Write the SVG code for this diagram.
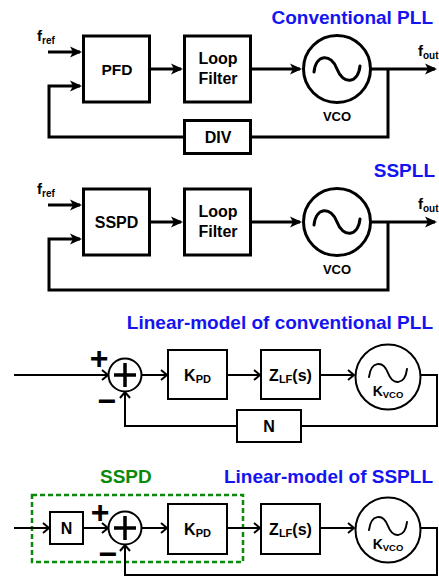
<svg xmlns="http://www.w3.org/2000/svg" width="439" height="579" viewBox="0 0 439 579">
<style>
.t{font-family:"Liberation Sans",Arial,sans-serif;font-weight:bold;fill:#000}
.ttl{font-family:"Liberation Sans",Arial,sans-serif;font-weight:bold;font-size:19px;fill:#1414f0}
.w3{fill:none;stroke:#000;stroke-width:3;stroke-linejoin:miter}
.w2{fill:none;stroke:#000;stroke-width:2;stroke-linejoin:miter}
.b3{fill:#fff;stroke:#000;stroke-width:3}
.b2{fill:#fff;stroke:#000;stroke-width:2}
.sine3{fill:none;stroke:#000;stroke-width:3;stroke-linecap:round}
.sine2{fill:none;stroke:#000;stroke-width:2;stroke-linecap:round}
.pl{fill:none;stroke:#000;stroke-width:3.5}
.sg{font-family:"Liberation Sans",Arial,sans-serif;font-weight:bold;font-size:32px;fill:#000}
</style>
<defs>
<marker id="ah" markerUnits="userSpaceOnUse" viewBox="-11 -6 14 12" refX="0" refY="0" markerWidth="14" markerHeight="12" orient="auto"><path d="M2,0 L-10,-5.5 L-7,0 L-10,5.5 Z" fill="#000"/></marker>
<marker id="ch" markerUnits="userSpaceOnUse" viewBox="-8 -7 10 14" refX="0" refY="0" markerWidth="10" markerHeight="14" orient="auto"><path d="M-6,-5 L0,0 L-6,5" fill="none" stroke="#000" stroke-width="2"/></marker>
</defs>

<text class="ttl" x="433" y="24" text-anchor="end">Conventional PLL</text>
<text class="ttl" x="435" y="177" text-anchor="end">SSPLL</text>
<text class="ttl" x="433" y="329" text-anchor="end">Linear-model of conventional PLL</text>
<text class="ttl" x="433" y="483" text-anchor="end">Linear-model of SSPLL</text>

<rect id="sspd-group" x="32" y="495" width="211" height="67" fill="none" stroke="#0a8a0a" stroke-width="2.5" stroke-dasharray="5 3"/>
<text class="ttl" x="100" y="483" style="fill:#0a8a0a">SSPD</text>

<g id="connectors">
<!-- section 1 -->
<path class="w3" d="M48,52 H80" marker-end="url(#ah)"/>
<path class="w3" d="M151,69 H181" marker-end="url(#ah)"/>
<path class="w3" d="M252,69 H300" marker-end="url(#ah)"/>
<path class="w3" d="M370,69 H435" marker-end="url(#ah)"/>
<path class="w3" d="M388,69 V137 H49 V86 H80" marker-end="url(#ah)"/>
<!-- section 2 -->
<path class="w3" d="M48,205 H80" marker-end="url(#ah)"/>
<path class="w3" d="M151,222 H181" marker-end="url(#ah)"/>
<path class="w3" d="M252,222 H300" marker-end="url(#ah)"/>
<path class="w3" d="M370,222 H435" marker-end="url(#ah)"/>
<path class="w3" d="M388,222 V290 H49 V239 H80" marker-end="url(#ah)"/>
<!-- section 3 -->
<path class="w2" d="M14,375 H108" marker-end="url(#ch)"/>
<path class="w2" d="M142,375 H167" marker-end="url(#ch)"/>
<path class="w2" d="M228,375 H260" marker-end="url(#ch)"/>
<path class="w2" d="M321,375 H354" marker-end="url(#ch)"/>
<path class="w2" d="M420,375 H437 V426 H125 V392" marker-end="url(#ch)"/>
<!-- section 4 -->
<path class="w2" d="M14,528 H49" marker-end="url(#ch)"/>
<path class="w2" d="M84,528 H108" marker-end="url(#ch)"/>
<path class="w2" d="M142,528 H167" marker-end="url(#ch)"/>
<path class="w2" d="M228,528 H260" marker-end="url(#ch)"/>
<path class="w2" d="M321,528 H354" marker-end="url(#ch)"/>
<path class="w2" d="M420,528 H437 V575 H125 V545" marker-end="url(#ch)"/>
</g>

<!-- section 1 nodes -->
<text class="t" x="37" y="41" font-size="15">f<tspan font-size="10" dy="3">ref</tspan></text>
<text class="t" x="418" y="56" font-size="15">f<tspan font-size="10" dy="3">out</tspan></text>
<g id="pfd"><rect class="b3" x="83.5" y="36" width="66" height="66"/><text class="t" x="117" y="75" font-size="15.5" text-anchor="middle">PFD</text></g>
<g id="lf1"><rect class="b3" x="184.5" y="36" width="66" height="66"/><text class="t" x="218" y="64" font-size="16" text-anchor="middle">Loop</text><text class="t" x="218" y="84" font-size="16" text-anchor="middle">Filter</text></g>
<g id="vco1"><circle class="b3" cx="337" cy="69" r="33.5"/><path class="sine3" d="M314,72 C316,54 331,53 337,69 C343,85 358,84 360,66"/><text class="t" x="337" y="121" font-size="13" text-anchor="middle">VCO</text></g>
<g id="div"><rect class="b3" x="184.5" y="120.5" width="66" height="33"/><text class="t" x="218" y="142.5" font-size="16" text-anchor="middle">DIV</text></g>

<!-- section 2 nodes -->
<text class="t" x="37" y="194" font-size="15">f<tspan font-size="10" dy="3">ref</tspan></text>
<text class="t" x="418" y="209" font-size="15">f<tspan font-size="10" dy="3">out</tspan></text>
<g id="sspd"><rect class="b3" x="83.5" y="189" width="66" height="66"/><text class="t" x="116.5" y="227.5" font-size="16" text-anchor="middle">SSPD</text></g>
<g id="lf2"><rect class="b3" x="184.5" y="189" width="66" height="66"/><text class="t" x="218" y="217" font-size="16" text-anchor="middle">Loop</text><text class="t" x="218" y="237" font-size="16" text-anchor="middle">Filter</text></g>
<g id="vco2"><circle class="b3" cx="337" cy="222" r="33.5"/><path class="sine3" d="M314,225 C316,207 331,206 337,222 C343,238 358,237 360,219"/><text class="t" x="337" y="274" font-size="13" text-anchor="middle">VCO</text></g>

<!-- section 3 nodes -->
<g id="sum1"><circle class="b2" cx="125" cy="375" r="16.5"/><path class="pl" d="M114,375 H136 M125,363 V387"/>
<text class="sg" x="99" y="368.5" text-anchor="middle">+</text><text class="sg" x="107" y="411.5" text-anchor="middle">−</text></g>
<g id="kpd1"><rect class="b2" x="168" y="350" width="59" height="49"/><text class="t" x="197.5" y="381" font-size="16" text-anchor="middle">K<tspan font-size="11" dy="1.5">PD</tspan></text></g>
<g id="zlf1"><rect class="b2" x="261" y="350" width="59" height="49"/><text class="t" x="290.5" y="381" font-size="16" text-anchor="middle">Z<tspan font-size="11" dy="1.5">LF</tspan><tspan dy="-1.5">(s)</tspan></text></g>
<g id="kvco1"><circle class="b2" cx="388" cy="377" r="32.5"/><path class="sine2" d="M369,377 C371,361 383,360 388,373 C393,386 405,385 407,369"/><text class="t" x="388" y="396" font-size="14" text-anchor="middle">K<tspan font-size="9.5" dy="1.5">VCO</tspan></text></g>
<g id="n1"><rect class="b2" x="237" y="410" width="64" height="32"/><text class="t" x="269" y="432" font-size="16" text-anchor="middle">N</text></g>

<!-- section 4 nodes -->
<g id="n2"><rect class="b2" x="50" y="512" width="33" height="32"/><text class="t" x="66.5" y="534" font-size="16" text-anchor="middle">N</text></g>
<g id="sum2"><circle class="b2" cx="125" cy="528" r="16.5"/><path class="pl" d="M114,528 H136 M125,516 V540"/>
<text class="sg" x="100" y="522.5" text-anchor="middle">+</text><text class="sg" x="108" y="564.5" text-anchor="middle">−</text></g>
<g id="kpd2"><rect class="b2" x="168" y="504" width="59" height="50"/><text class="t" x="197.5" y="535" font-size="16" text-anchor="middle">K<tspan font-size="11" dy="1.5">PD</tspan></text></g>
<g id="zlf2"><rect class="b2" x="261" y="504" width="59" height="50"/><text class="t" x="290.5" y="535" font-size="16" text-anchor="middle">Z<tspan font-size="11" dy="1.5">LF</tspan><tspan dy="-1.5">(s)</tspan></text></g>
<g id="kvco2"><circle class="b2" cx="388" cy="530" r="32.5"/><path class="sine2" d="M369,530 C371,514 383,513 388,526 C393,539 405,538 407,522"/><text class="t" x="388" y="549" font-size="14" text-anchor="middle">K<tspan font-size="9.5" dy="1.5">VCO</tspan></text></g>
</svg>
